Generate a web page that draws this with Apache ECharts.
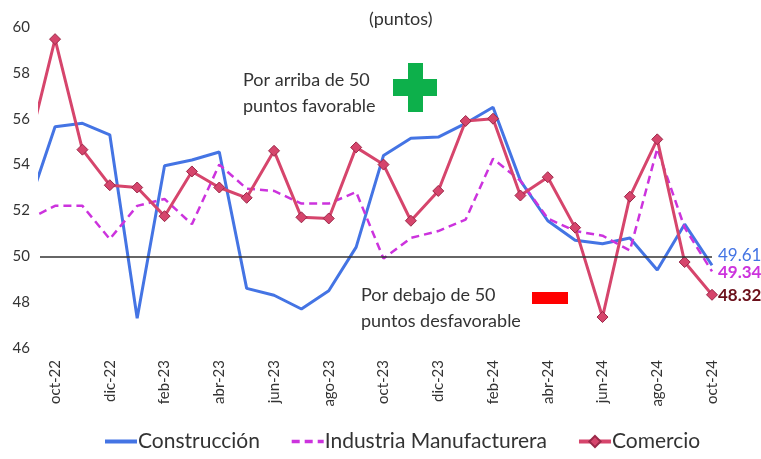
<!DOCTYPE html>
<html>
<head>
<meta charset="utf-8">
<script src="https://cdn.jsdelivr.net/npm/echarts@6/dist/echarts.min.js"></script>
<style>
  html, body { margin: 0; padding: 0; background: #fff; }
  #chart { width: 761px; height: 459px; }
</style>
</head>
<body>
<div id="chart"></div>
<script>
// meses: sep-22 (recortado a la izquierda) hasta oct-24
var months = ["sep-22", "oct-22", "nov-22", "dic-22", "ene-23", "feb-23", "mar-23", "abr-23", "may-23",
  "jun-23", "jul-23", "ago-23", "sep-23", "oct-23", "nov-23", "dic-23", "ene-24", "feb-24",
  "mar-24", "abr-24", "may-24", "jun-24", "jul-24", "ago-24", "sep-24", "oct-24"];

var construccion = [52.1, 55.65, 55.8, 55.3, 47.3, 53.95, 54.2, 54.55, 48.6,
  48.3, 47.7, 48.5, 50.4, 54.4, 55.15, 55.2, 55.8, 56.5,
  53.3, 51.55, 50.7, 50.55, 50.8, 49.4, 51.4, 49.61];

var industria = [51.6, 52.2, 52.2, 50.75, 52.2, 52.5, 51.4, 54.0, 52.95,
  52.85, 52.3, 52.3, 52.8, 49.9, 50.8, 51.1, 51.6, 54.25,
  53.3, 51.65, 51.1, 50.9, 50.25, 54.7, 51.25, 49.34];

var comercio = [54.6, 59.47, 54.65, 53.1, 53.0, 51.75, 53.7, 53.0, 52.55,
  54.6, 51.7, 51.65, 54.75, 54.0, 51.55, 52.85, 55.9, 56.0,
  52.65, 53.45, 51.25, 47.35, 52.6, 55.1, 49.75, 48.32];

var yTicks = [46, 48, 50, 52, 54, 56, 58, 60];

// x como índice: 0 = oct-22
function toPoints(arr) {
  return arr.map(function (v, i) { return [i - 1, v]; });
}

var labelIdx = [];
for (var i = 0; i <= 24; i += 2) labelIdx.push(i);

var font = "Lato";
var chart = echarts.init(document.getElementById("chart"));

var option = {
  animation: false,
  textStyle: { fontFamily: font },
  grid: { left: 40, right: 49, top: 27, bottom: 111, containLabel: false },
  xAxis: {
    type: "value",
    min: -0.55,
    max: 24,
    axisLine: { show: false },
    axisTick: { show: false },
    splitLine: { show: false },
    axisLabel: {
      customValues: labelIdx,
      rotate: 90,
      margin: 12,
      fontSize: 15,
      color: "#333",
      fontFamily: font,
      formatter: function (v) { return months[Math.round(v) + 1]; }
    }
  },
  yAxis: {
    type: "value",
    min: yTicks[0],
    max: yTicks[yTicks.length - 1],
    interval: 2,
    axisLine: { show: false },
    axisTick: { show: false },
    splitLine: { show: false },
    axisLabel: { fontSize: 15, color: "#333", margin: 10, align: "right", fontFamily: font }
  },
  legend: {
    bottom: 2,
    left: 98,
    itemWidth: 32,
    itemHeight: 14,
    itemGap: 30,
    textStyle: { fontSize: 21, color: "#333", fontFamily: font, padding: [0, 0, 0, -4] },
    data: [
      { name: "Construcción", itemStyle: { opacity: 0 }, lineStyle: { width: 4 } },
      { name: "Industria Manufacturera", itemStyle: { opacity: 0 }, lineStyle: { width: 3.5 } },
      { name: "Comercio", lineStyle: { width: 4 } }
    ]
  },
  series: [
    {
      name: "Construcción",
      type: "line",
      data: toPoints(construccion),
      symbol: "none",
      z: 2,
      lineStyle: { color: "#4474E4", width: 3 },
      itemStyle: { color: "#4474E4" },
      endLabel: {
        show: true,
        formatter: function (p) { return p.value[1].toFixed(2); },
        color: "#4474E4",
        fontSize: 17,
        fontFamily: font,
        distance: 6,
        offset: [0, -10]
      },
      markLine: {
        silent: true,
        symbol: "none",
        label: { show: false },
        lineStyle: { color: "#333", width: 1.5, type: "solid" },
        data: [{ yAxis: 50 }]
      }
    },
    {
      name: "Industria Manufacturera",
      type: "line",
      data: toPoints(industria),
      symbol: "none",
      z: 3,
      lineStyle: { color: "#CC33DD", width: 2.5, type: [8, 5] },
      itemStyle: { color: "#CC33DD" },
      endLabel: {
        show: true,
        formatter: function (p) { return p.value[1].toFixed(2); },
        color: "#CC33DD",
        fontSize: 17,
        fontWeight: "bold",
        fontFamily: font,
        distance: 6,
        offset: [0, 1]
      }
    },
    {
      name: "Comercio",
      type: "line",
      data: toPoints(comercio),
      symbol: "diamond",
      symbolSize: 11,
      z: 4,
      lineStyle: { color: "#D6456C", width: 3 },
      itemStyle: { color: "#D6456C", borderColor: "#9A2848", borderWidth: 1 },
      endLabel: {
        show: true,
        formatter: function (p) { return p.value[1].toFixed(2); },
        color: "#6B0F1A",
        fontSize: 17,
        fontWeight: "bold",
        fontFamily: font,
        distance: 6,
        offset: [0, 1]
      }
    }
  ],
  graphic: [
    { type: "text", left: 369, top: 10, style: { text: "(puntos)", fontSize: 18, fill: "#333", fontFamily: font } },
    { type: "text", left: 243, top: 67, style: { text: "Por arriba de 50\npuntos favorable", fontSize: 18, lineHeight: 26, fill: "#333", fontFamily: font } },
    { type: "text", left: 361, top: 282, style: { text: "Por debajo de 50\npuntos desfavorable", fontSize: 18, lineHeight: 26, fill: "#333", fontFamily: font } },
    { type: "rect", shape: { x: 408, y: 63, width: 15, height: 49 }, style: { fill: "#0DB04B" } },
    { type: "rect", shape: { x: 393, y: 79, width: 44, height: 17 }, style: { fill: "#0DB04B" } },
    { type: "rect", shape: { x: 532, y: 292, width: 36, height: 12 }, style: { fill: "#FF0000" } }
  ]
};

chart.setOption(option);
</script>
</body>
</html>
